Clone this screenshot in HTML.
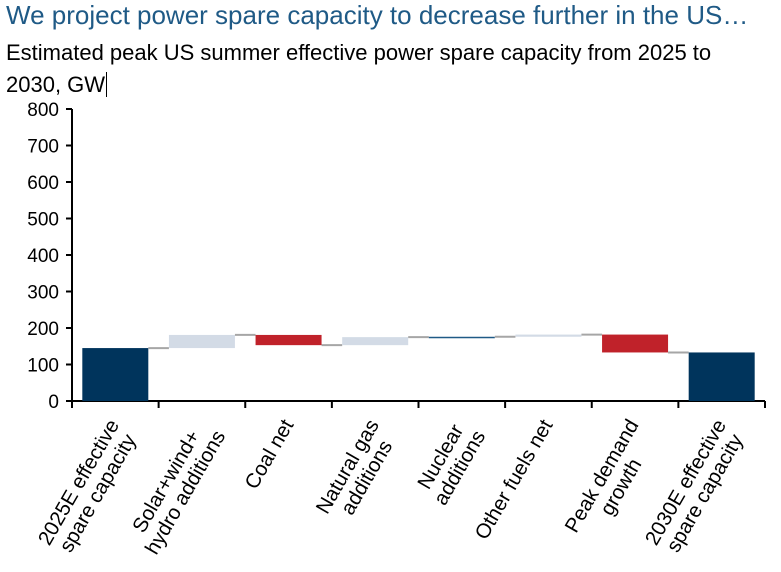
<!DOCTYPE html>
<html><head><meta charset="utf-8"><style>
body{margin:0;background:#fff;width:781px;height:572px;overflow:hidden;position:relative;font-family:"Liberation Sans",Arial,sans-serif}
.title{position:absolute;left:6px;top:0px;font-size:26px;color:#1f5a86;white-space:nowrap}
.sub{position:absolute;left:6px;top:37px;font-size:22px;color:#000;line-height:32px;width:740px}
.lbl{position:absolute;font-size:20.5px;line-height:22px;text-align:center;white-space:nowrap;transform:rotate(-60deg);transform-origin:100% 0}
</style></head><body>
<div class="title">We project power spare capacity to decrease further in the US…</div>
<div class="sub">Estimated peak US summer effective power spare capacity from 2025 to 2030, GW<span style="border-left:1px solid #000;margin-left:1px"></span></div>
<svg id="c" width="781" height="572" style="position:absolute;left:0;top:0"></svg>
<div id="labels"></div>
<script>
const categories=["2025E effective\nspare capacity","Solar+wind+\nhydro additions","Coal net","Natural gas\nadditions","Nuclear\nadditions","Other fuels net","Peak demand\ngrowth","2030E effective\nspare capacity"];
const deltas=[145,36,-28,22,1,6,-49,0];
const kinds=["total","delta","delta","delta","delta","delta","delta","total"];
const yTicks=[0,100,200,300,400,500,600,700,800];
const NS="http://www.w3.org/2000/svg";
const svg=document.getElementById('c');
const X0=72,X1=765,Y0=401,Y800=109;
const y=v=>Y0-(v/800)*(Y0-Y800);
const cw=(X1-X0)/categories.length;
const cx=i=>X0+cw*(i+0.5);
const bw=66;
function mk(t,a){const e=document.createElementNS(NS,t);for(const k in a)e.setAttribute(k,a[k]);svg.appendChild(e);return e;}
let ax=mk('line',{x1:X0,y1:Y800,x2:X0,y2:Y0,stroke:'#000','stroke-width':2});

let bx=mk('line',{x1:X0-6,y1:Y0,x2:X1,y2:Y0,stroke:'#000','stroke-width':2});

yTicks.forEach(t=>{
  let l=mk('line',{x1:X0-6,y1:y(t),x2:X0,y2:y(t),stroke:'#000','stroke-width':2});
  
  let tx=mk('text',{x:X0-13,y:y(t)+7,'text-anchor':'end','font-size':19,fill:'#000'});
  tx.textContent=t;
  
});
for(let i=0;i<=categories.length;i++){
  let l=mk('line',{x1:X0+cw*i,y1:Y0,x2:X0+cw*i,y2:Y0+7,stroke:'#000','stroke-width':2});
  
}
let run=0,prevEnd=null;
categories.forEach((c,i)=>{
  let lo,hi,col;
  if(kinds[i]==="total"){ if(i>0) deltas[i]=run; run=deltas[i]; lo=0;hi=run;col='#00345c'; }
  else{ const s=run; run+=deltas[i]; lo=Math.min(s,run);hi=Math.max(s,run);col=deltas[i]>=0?'#d3dbe6':'#c0222a'; }
  if(i>0){
    let cl=mk('line',{x1:cx(i-1)+bw/2,x2:cx(i)-bw/2,y1:y(prevEnd),y2:y(prevEnd),stroke:'#a6a6a6','stroke-width':2});
    
  }
  let h=Math.max(y(lo)-y(hi),1.5);
  let r=mk('rect',{x:cx(i)-bw/2,y:y(hi),width:bw,height:h,fill:(hi-lo<2&&kinds[i]!=="total")?'#1f5a86':col});
  
  prevEnd=run;
  const d=document.createElement('div');
  d.className='lbl';
  d.innerHTML=c.replace('\n','<br>');
  
  
  document.getElementById('labels').appendChild(d);
  const w=d.offsetWidth;
  d.style.left=(cx(i)-10-w)+'px';
  d.style.top='416px';
});
</script>
</body></html>
